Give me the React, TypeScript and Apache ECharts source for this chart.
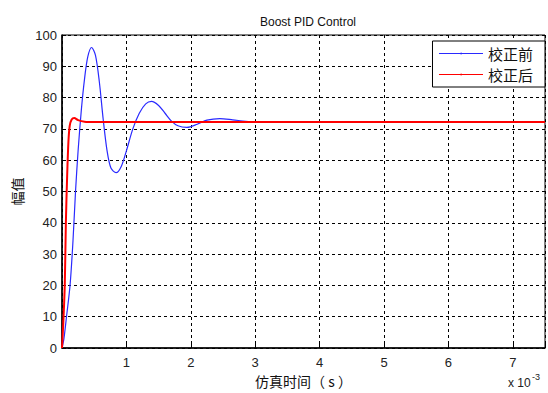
import React, { useEffect, useRef } from "react";
import * as echarts from "echarts";

// time in units of 1e-3 s
const beforeT = [0, 0.03, 0.07, 0.125, 0.17, 0.21, 0.25, 0.3, 0.35, 0.4, 0.46, 0.52, 0.58, 0.64, 0.7, 0.76, 0.84, 0.92, 1.0, 1.1, 1.2, 1.3, 1.39, 1.5, 1.6, 1.7, 1.8, 1.94, 2.1, 2.25, 2.45, 2.65, 2.85, 3.0, 3.5, 4.0, 5.0, 6.0, 7.0, 7.5];
const beforeV = [0, 3, 10, 20, 34, 50, 63, 76, 86, 93, 96, 93.5, 85, 73, 63, 57.5, 56, 58, 63, 70, 75, 78, 78.8, 77.5, 75, 72.5, 71, 70.5, 71.5, 72.8, 73.3, 72.9, 72.4, 72.2, 72.3, 72.3, 72.3, 72.3, 72.3, 72.3];
const afterT = [0, 0.02, 0.043, 0.06, 0.08, 0.1, 0.12, 0.15, 0.19, 0.25, 0.35, 0.5, 1, 2, 3, 4, 5, 6, 7, 7.5];
const afterV = [0, 8, 20, 40, 55, 66, 71, 73, 73.5, 72.8, 72.3, 72.2, 72.2, 72.2, 72.2, 72.2, 72.2, 72.2, 72.2, 72.2];
const seriesNames = ["校正前", "校正后"];
const xTicks = [0, 1, 2, 3, 4, 5, 6, 7];

export default function App() {
  const ref = useRef<HTMLDivElement>(null);
  useEffect(() => {
    if (!ref.current) return;
    const chart = echarts.init(ref.current, null, { renderer: "svg" });
    const split = { show: true, lineStyle: { color: "#000", type: [3, 3] as any, width: 1 } };
    const labelFont = { color: "#222", fontSize: 13, fontFamily: "Liberation Sans, Arial, sans-serif" };
    chart.setOption({
      animation: false,
      backgroundColor: "#fff",
      title: {
        text: "Boost PID Control",
        left: 303,
        textAlign: "center",
        top: 11,
        textStyle: { fontSize: 12, fontWeight: "normal", color: "#111", fontFamily: "Liberation Sans, Arial, sans-serif" },
      },
      grid: { left: 62, right: 3, top: 35, bottom: 44, show: true, borderColor: "#000", borderWidth: 1 },
      legend: {
        data: seriesNames,
        orient: "vertical",
        right: 3,
        top: 41,
        itemWidth: 44,
        itemHeight: 2,
        itemGap: 6,
        padding: [5, 12, 5, 6],
        borderColor: "#000",
        borderWidth: 1,
        borderRadius: 0,
        backgroundColor: "#fff",
        lineStyle: { width: 1 },
        textStyle: { fontSize: 15, color: "#111", fontFamily: "Noto Sans CJK SC" },
      },
      xAxis: {
        type: "value",
        min: 0,
        max: 7.5,
        interval: 1,
        name: "仿真时间（ s ）",
        nameLocation: "middle",
        nameGap: 26,
        nameTextStyle: { fontSize: 14, color: "#111", fontFamily: "Noto Sans CJK SC" },
        axisLine: { show: true, onZero: false, lineStyle: { color: "#000", width: 1.5 } },
        axisTick: { inside: true, length: 4, lineStyle: { color: "#000" } },
        axisLabel: {
          ...labelFont,
          margin: 8,
          formatter: (v: number) => (xTicks.includes(v) && v !== 0 ? String(v) : ""),
        },
        splitLine: split,
      },
      yAxis: {
        type: "value",
        min: 0,
        max: 100,
        interval: 10,
        name: "幅值",
        nameLocation: "middle",
        nameGap: 38,
        nameRotate: 90,
        nameTextStyle: { fontSize: 14, color: "#111", fontFamily: "Noto Sans CJK SC" },
        axisLine: { show: true, onZero: false, lineStyle: { color: "#000", width: 1.5 } },
        axisTick: { inside: true, length: 4, lineStyle: { color: "#000" } },
        axisLabel: { ...labelFont, margin: 5 },
        splitLine: split,
      },
      graphic: [
        {
          type: "text",
          left: 508,
          top: 377,
          style: { text: "x 10", fontSize: 12, fill: "#222", fontFamily: "Liberation Sans, Arial, sans-serif" },
        },
        {
          type: "text",
          left: 532,
          top: 372,
          style: { text: "-3", fontSize: 9, fill: "#222", fontFamily: "Liberation Sans, Arial, sans-serif" },
        },
      ],
      series: [
        {
          name: seriesNames[0],
          type: "line",
          smooth: 0.3,
          symbol: "none",
          lineStyle: { color: "#2a2aff", width: 1.2 },
          itemStyle: { color: "#2a2aff" },
          data: beforeT.map((t, i) => [t, beforeV[i]]),
          z: 3,
        },
        {
          name: seriesNames[1],
          type: "line",
          smooth: 0.3,
          symbol: "none",
          lineStyle: { color: "#ff0000", width: 2 },
          itemStyle: { color: "#ff0000" },
          data: afterT.map((t, i) => [t, afterV[i]]),
          z: 4,
        },
      ],
    });
    return () => chart.dispose();
  }, []);
  return <div ref={ref} style={{ width: 548, height: 393, position: "absolute", left: 0, top: 0 }} />;
}
